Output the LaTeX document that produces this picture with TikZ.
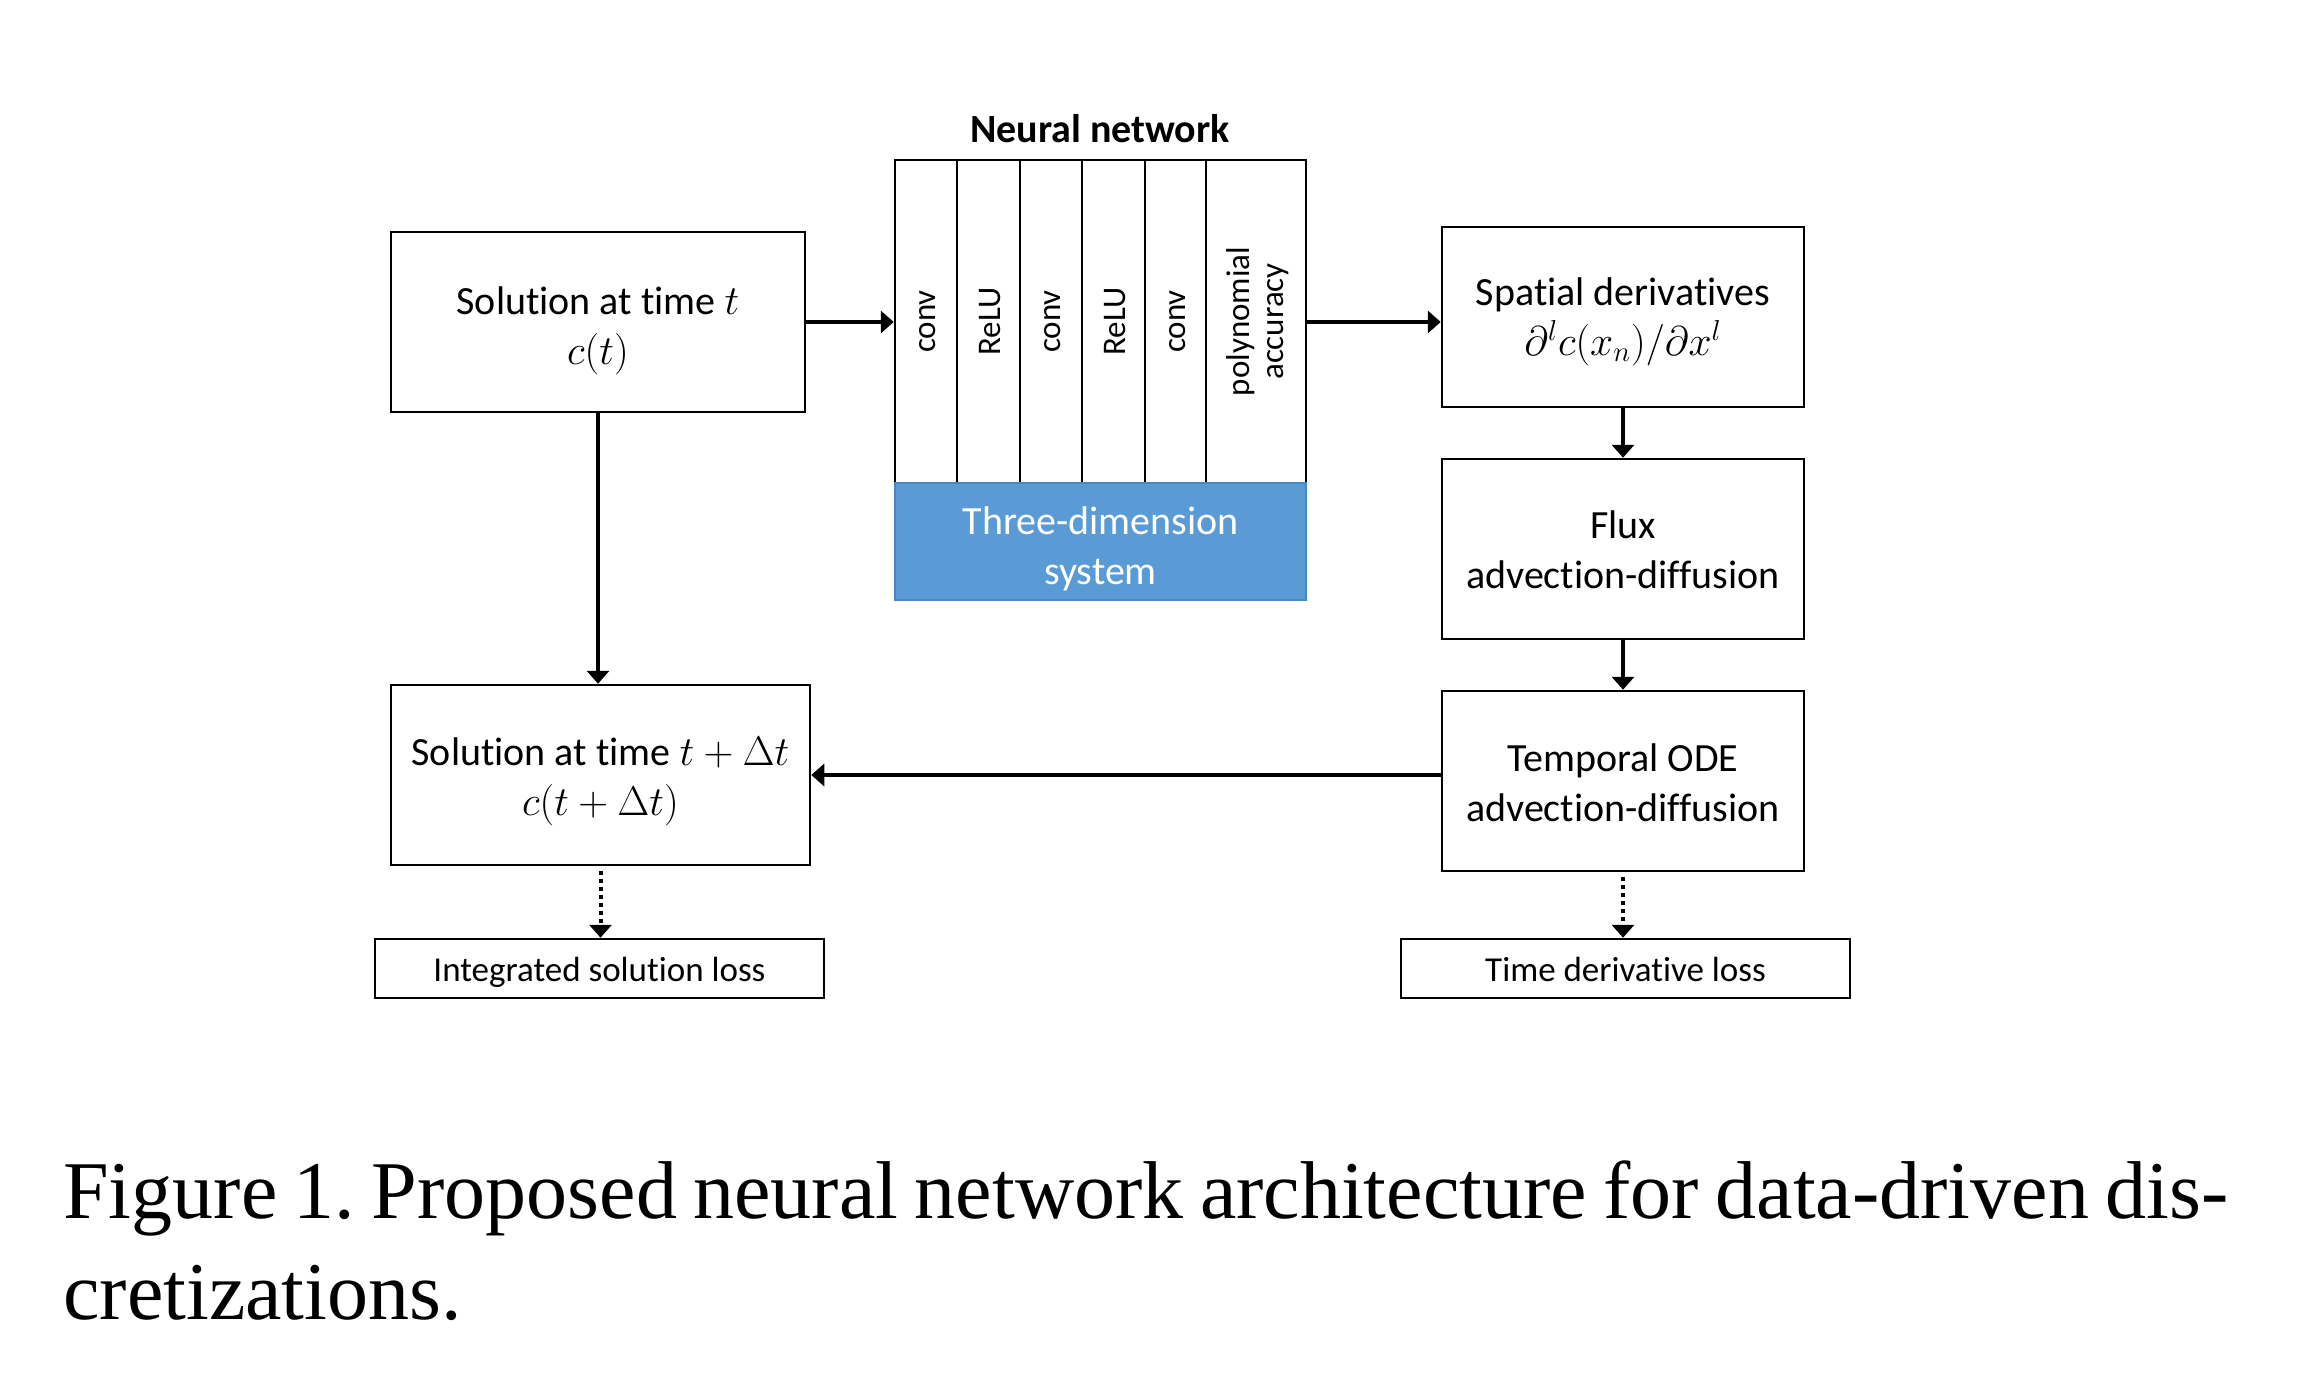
\documentclass[tikz,border=0pt]{standalone}
\usepackage{fontspec}
\setmainfont{Carlito}[Ligatures={NoCommon}]
\newfontfamily\capfont{Liberation Serif}
\usetikzlibrary{arrows.meta}
\definecolor{nnblue}{HTML}{5B9BD5}
\definecolor{nnblueedge}{HTML}{4A86C0}
\begin{document}
\begin{tikzpicture}[x=0.5pt,y=-0.5pt,
  box/.style={draw, line width=1.25pt, inner sep=0pt, minimum width=181pt, minimum height=90pt},
  txt/.style={align=center, font=\fontsize{20}{25}\selectfont, inner sep=0pt},
  lossbox/.style={draw, line width=1.25pt, inner sep=0pt, minimum width=224.5pt, minimum height=29.5pt},
  losstxt/.style={align=center, font=\fontsize{17.5}{21}\selectfont, inner sep=0pt},
  col/.style={draw, line width=0.75pt, inner sep=0pt, minimum height=161.5pt},
  coltext/.style={rotate=90, align=center, font=\fontsize{16.5}{17}\selectfont, inner sep=0pt},
  arr/.style={line width=2pt, -{Triangle[length=6.5pt,width=11pt]}},
  darr/.style={line width=2pt, dash pattern=on 2pt off 2pt, -{Triangle[length=6.5pt,width=11pt]}},
]
\fill[white] (0,0) rectangle (2298,1382);
\useasboundingbox (0,0) rectangle (2298,1382);

% left column
\node[box, minimum width=207pt] (s1) at (598,322) {};
\node[txt] (s1t) at ([yshift=-4.5pt]s1.center) {Solution at time $t$\\$c(t)$};
\node[box, minimum width=209.5pt] (s2) at (600.5,775) {};
\node[txt] (s2t) at ([yshift=-3pt]s2.center) {Solution at time $t+\Delta t$\\$c(t+\Delta t)$};
\node[lossbox] (il) at (599.5,968.5) {};
\node[losstxt] (ilt) at ([yshift=-2pt]il.center) {Integrated solution loss};

% neural network
\node[font=\fontsize{20}{25}\selectfont\bfseries] (title) at (1100,129) {Neural network};
\node[col, minimum width=31pt] (c1) at (926,321.5) {};
\node[col, minimum width=31.5pt] (c2) at (988.5,321.5) {};
\node[col, minimum width=31pt] (c3) at (1051,321.5) {};
\node[col, minimum width=31.5pt] (c4) at (1113.5,321.5) {};
\node[col, minimum width=30.5pt] (c5) at (1175.5,321.5) {};
\node[col, minimum width=50pt] (c6) at (1256,321.5) {};
\node[coltext] (t1) at ([xshift=1pt]c1.center) {conv};
\node[coltext] (t2) at ([xshift=1pt]c2.center) {ReLU};
\node[coltext] (t3) at ([xshift=1pt]c3.center) {conv};
\node[coltext] (t4) at ([xshift=1pt]c4.center) {ReLU};
\node[coltext] (t5) at ([xshift=1pt]c5.center) {conv};
\node[coltext] (t6) at ([xshift=1pt]c6.center) {polynomial\\accuracy};
\node[draw, line width=1.25pt, inner sep=0pt, minimum width=205.5pt, minimum height=161.5pt] (nn) at (1100.5,321.5) {};
\node[draw=nnblueedge, fill=nnblue, line width=1pt, inner sep=0pt, minimum width=205.5pt, minimum height=58.5pt] (sys) at (1100.5,541.5) {};
\node[txt, text=white] (syst) at ([yshift=-3.5pt]sys.center) {Three-dimension\\system};

% right column
\node[box] (sd) at (1623,317) {};
\node[txt] (sdt) at ([yshift=-2.5pt]sd.center) {Spatial derivatives\\$\partial^l c(x_n)/\partial x^l$};
\node[box] (fx) at (1623,549) {};
\node[txt] (fxt) at ([yshift=-0.5pt]fx.center) {Flux\\advection-diffusion};
\node[box] (tp) at (1623,781) {};
\node[txt] (tpt) at ([yshift=-1pt]tp.center) {Temporal ODE\\advection-diffusion};
\node[lossbox] (tl) at (1625.5,968.5) {};
\node[losstxt] (tlt) at ([yshift=-0.5pt]tl.center) {Time derivative loss};

% connectors
\draw[arr] (s1.east) -- (nn.west |- s1.east);
\draw[arr] (nn.east |- s1.east) -- (sd.west |- s1.east);
\draw[arr] (s1.south) -- (s1.south |- s2.north);
\draw[arr] (sd.south) -- (fx.north);
\draw[arr] (fx.south) -- (tp.north);
\draw[arr] (tp.west |- s2.east) -- (s2.east);
\draw[darr] ([yshift=-2.5pt]s2.south) -- (s2.south |- il.north);
\draw[darr] ([yshift=-2.5pt]tp.south) -- (tp.south |- tl.north);

% caption
\node[anchor=base west, inner sep=0pt, font=\capfont\fontsize{41}{50}\selectfont\frenchspacing] (cap1) at (63,1218) {\makebox[1082.5pt][s]{Figure 1. Proposed neural network architecture for data-driven dis-}};
\node[anchor=base west, inner sep=0pt, font=\capfont\fontsize{41}{50}\selectfont] (cap2) at (63,1319) {cretizations.};
\end{tikzpicture}
\end{document}
